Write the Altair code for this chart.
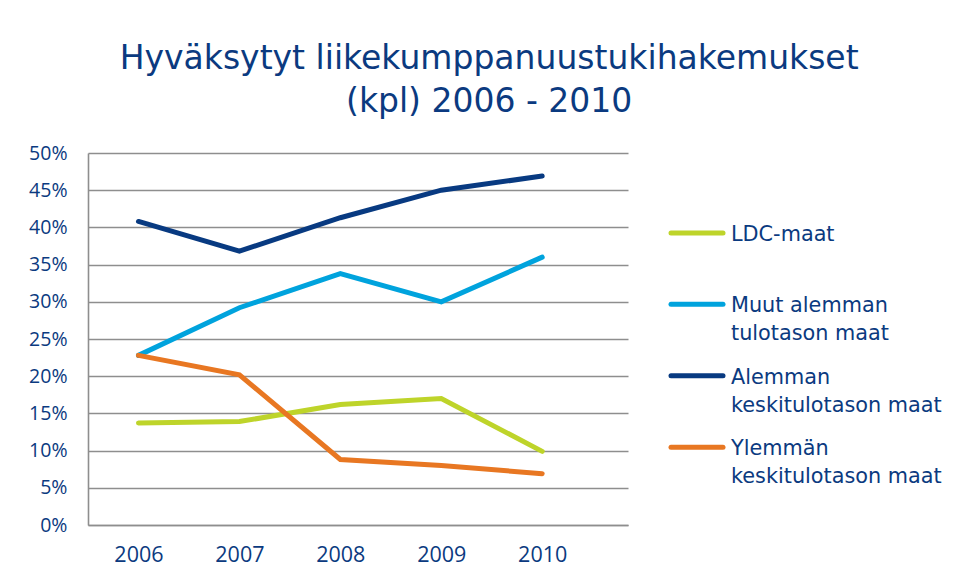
import altair as alt
import pandas as pd

years = [2006, 2007, 2008, 2009, 2010]
series_names = [
    "LDC-maat",
    "Muut alemman tulotason maat",
    "Alemman keskitulotason maat",
    "Ylemmän keskitulotason maat",
]
legend_labels = [
    "LDC-maat",
    "Muut alemman\ntulotason maat",
    "Alemman\nkeskitulotason maat",
    "Ylemmän\nkeskitulotason maat",
]
ldc = [13.7, 13.9, 16.2, 17.0, 9.9]
muut = [22.8, 29.2, 33.8, 30.0, 36.0]
alemman = [40.8, 36.8, 41.3, 45.0, 46.9]
ylemman = [22.8, 20.2, 8.8, 8.0, 6.9]
y_ticks = [0, 5, 10, 15, 20, 25, 30, 35, 40, 45, 50]
title_lines = ["Hyväksytyt liikekumppanuustukihakemukset", "(kpl) 2006 - 2010"]

colors = ["#BED42A", "#00A3DD", "#083A81", "#E87722"]
NAVY = "#0B3A80"
GRID = "#8E8E8E"
FONT_AX = "Open Sans, sans-serif"
FONT_TX = "DejaVu Sans, sans-serif"

rows = []
for name, vals in zip(series_names, [ldc, muut, alemman, ylemman]):
    for yr, v in zip(years, vals):
        rows.append({"series": name, "year": yr, "value": v})
df = pd.DataFrame(rows)

color_scale = alt.Scale(domain=series_names, range=colors)

main = alt.Chart(df).mark_line(strokeWidth=5, strokeCap="round").encode(
    x=alt.X(
        "year:Q",
        scale=alt.Scale(domain=[2005.5, 2010.85], nice=False, zero=False),
        axis=alt.Axis(
            values=years, format="d", title=None, grid=False, ticks=False, tickSize=0,
            labelPadding=19, labelFontSize=21.5, labelColor=NAVY, labelFont=FONT_AX,
            domain=True, domainColor=GRID, domainWidth=1.6,
        ),
    ),
    y=alt.Y(
        "value:Q",
        scale=alt.Scale(domain=[0, 50], nice=False),
        axis=alt.Axis(
            values=y_ticks, labelExpr="datum.value + '%'", title=None, ticks=False, tickSize=0,
            labelPadding=21, labelFontSize=19.5, labelColor=NAVY, labelFont=FONT_AX,
            grid=True, gridColor=GRID, gridWidth=1.6,
            domain=True, domainColor=GRID, domainWidth=1.6,
        ),
    ),
    color=alt.Color("series:N", scale=color_scale, legend=None),
    detail="series:N",
).properties(width=540, height=372)

leg_df = pd.DataFrame({"series": series_names, "label": legend_labels, "idx": [0, 1, 2, 3]})
yleg = alt.Y("idx:Q", scale=alt.Scale(domain=[-1.12, 4.09], reverse=True, nice=False, zero=False), axis=None)

swatch = alt.Chart(leg_df).mark_rule(strokeWidth=5, strokeCap="round").encode(
    x=alt.value(0), x2=alt.value(52), y=yleg,
    color=alt.Color("series:N", scale=color_scale, legend=None),
)
labels = alt.Chart(leg_df).mark_text(
    align="left", baseline="alphabetic", dy=8, lineBreak="\n", lineHeight=28,
    fontSize=20.8, font=FONT_TX, color=NAVY,
).encode(x=alt.value(60), y=yleg, text="label:N")

legend = (swatch + labels).properties(width=220, height=372)

chart = alt.hconcat(main, legend, spacing=40).properties(
    title=alt.TitleParams(
        text=title_lines, fontSize=33, lineHeight=43, font=FONT_TX, color=NAVY,
        fontWeight="normal", anchor="middle", offset=24, dx=4,
    ),
    padding={"left": 20, "top": 35, "right": 0, "bottom": 0},
).configure_view(stroke=None)

chart.save("out.html", embed_options={"renderer": "svg", "actions": False})
